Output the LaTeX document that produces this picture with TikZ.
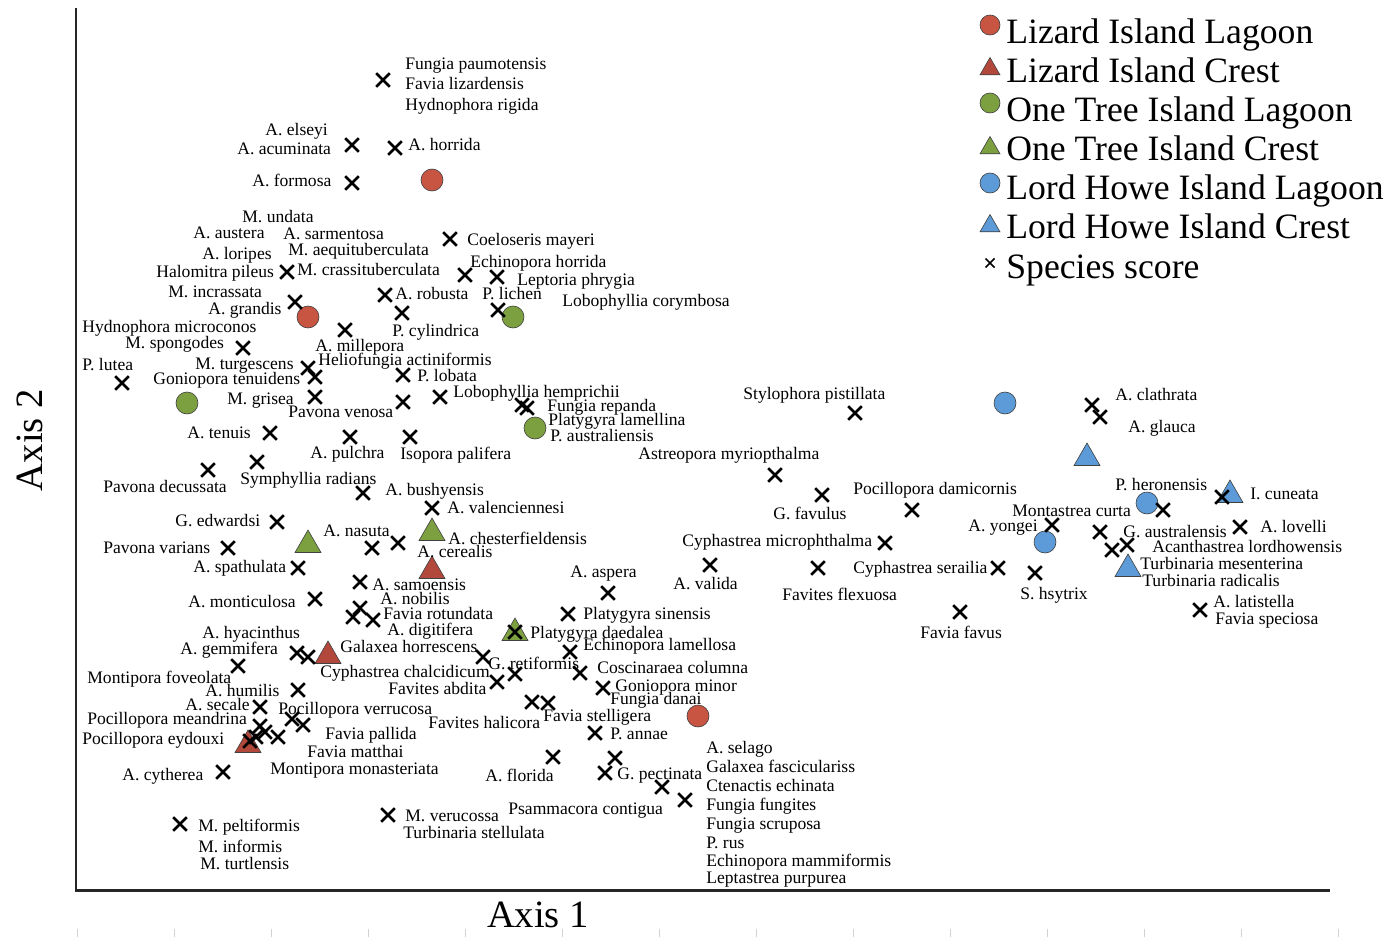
\documentclass[tikz,border=0pt]{standalone}
\usepackage{fontspec}
\setmainfont{Liberation Serif}
\usepackage{tikz}
\usetikzlibrary{shapes.geometric,shapes.misc}
\definecolor{lizard}{RGB}{200,84,66}
\definecolor{lizardcr}{RGB}{178,72,60}
\definecolor{onetree}{RGB}{124,160,64}
\definecolor{lordhowe}{RGB}{92,155,216}

\begin{document}
\begin{tikzpicture}[x=0.02cm, y=-0.02cm,
    xmark/.style={cross out, draw, line width=0.52mm, minimum size=2.2mm, inner sep=0pt},
    site/.style={draw=black!75, line width=0.35pt, inner sep=0pt},
    lagoon/.style={site, circle, minimum size=4.4mm},
    crest/.style={site, regular polygon, regular polygon sides=3, minimum size=6mm},
    lbl/.style={anchor=mid west, inner sep=0pt, yshift=-0.5mm, font=\fontsize{10}{12}\selectfont},
    key/.style={anchor=mid west, inner sep=0pt, yshift=-1.8mm, font=\fontsize{20.3}{24}\selectfont},
    axlbl/.style={inner sep=0pt, font=\fontsize{22}{26}\selectfont}]

    \useasboundingbox (0,0) rectangle (1400,937);

    \coordinate (T) at (76,8);
    \coordinate (O) at (76,890);
    \coordinate (R) at (1330,890);

    \draw[line width=1.7pt, black!85] (T) -- (O) -- (R);
    \foreach \t in {0,...,13}
        \draw[gray!35] (77+97*\t,929) -- (77+97*\t,937);

    % sites
    \node[lagoon, fill=lizard] (L1) at (432,180) {};
    \node[lagoon, fill=lizard] (L2) at (308,317) {};
    \node[lagoon, fill=lizard] (L3) at (698,716) {};
    \node[crest, fill=lizardcr] (LC1) at (432,571) {};
    \node[crest, fill=lizardcr] (LC2) at (328,656) {};
    \node[crest, fill=lizardcr] (LC3) at (248,745) {};
    \node[lagoon, fill=onetree] (G1) at (513,317) {};
    \node[lagoon, fill=onetree] (G2) at (187,403) {};
    \node[lagoon, fill=onetree] (G3) at (535,428) {};
    \node[crest, fill=onetree] (GC1) at (308,545) {};
    \node[crest, fill=onetree] (GC2) at (432,533) {};
    \node[crest, fill=onetree] (GC3) at (515,633) {};
    \node[lagoon, fill=lordhowe] (H1) at (1005,403) {};
    \node[lagoon, fill=lordhowe] (H2) at (1147,503) {};
    \node[lagoon, fill=lordhowe] (H3) at (1045,542) {};
    \node[crest, fill=lordhowe] (HC1) at (1087,458) {};
    \node[crest, fill=lordhowe] (HC2) at (1230,495) {};
    \node[crest, fill=lordhowe] (HC3) at (1128,569) {};

    % species scores
    \foreach \x/\y [count=\i] in {383/80, 352/145, 395/148, 352/183, 450/239,
        287/272, 465/275, 497/277, 385/295, 295/302, 402/313, 498/310,
        345/330, 243/348, 308/368, 315/377, 403/375, 122/383, 315/397,
        403/402, 440/397, 522/405, 527/408, 270/433, 350/437, 410/437,
        257/462, 208/470, 363/493, 432/508, 277/522, 228/548, 372/548,
        398/543, 298/568, 360/582, 315/599, 360/608, 353/617, 373/620,
        297/653, 308/657, 238/666, 483/657, 497/682, 515/674, 298/690,
        260/707, 292/719, 303/725, 260/726, 265/732, 256/737, 278/737,
        250/741, 223/772, 180/824, 388/815, 515/632, 570/652, 580/673,
        603/688, 532/702, 548/703, 595/733, 553/757, 615/758, 605/773,
        662/787, 685/800, 608/593, 568/614, 710/565, 775/475, 855/413,
        822/495, 912/510, 885/543, 818/568, 998/568, 1035/573, 960/612,
        1052/525, 1092/405, 1100/417, 1163/510, 1222/497, 1100/532,
        1240/527, 1112/550, 1127/545, 1200/610}
        \node[xmark] (x\i) at (\x,\y) {};

    % labels
    \node[lbl] (fpau) at (405,63) {Fungia paumotensis};
    \node[lbl] (fliz) at (405,83) {Favia lizardensis};
    \node[lbl] (hrig) at (405,104) {Hydnophora rigida};
    \node[lbl] (aels) at (265,129) {A. elseyi};
    \node[lbl] (aacu) at (237,148) {A. acuminata};
    \node[lbl] (ahor) at (408,144) {A. horrida};
    \node[lbl] (afor) at (252,180) {A. formosa};
    \node[lbl] (mund) at (242,216) {M. undata};
    \node[lbl] (aaus) at (193,232) {A. austera};
    \node[lbl] (asar) at (283,233) {A. sarmentosa};
    \node[lbl] (cmay) at (467,239) {Coeloseris mayeri};
    \node[lbl] (alor) at (202,253) {A. loripes};
    \node[lbl] (maeq) at (288,249) {M. aequituberculata};
    \node[lbl] (hpil) at (156,271) {Halomitra pileus};
    \node[lbl] (mcra) at (297,269) {M. crassituberculata};
    \node[lbl] (ehor) at (470,261) {Echinopora horrida};
    \node[lbl] (lphr) at (517,279) {Leptoria phrygia};
    \node[lbl] (minc) at (168,291) {M. incrassata};
    \node[lbl] (arob) at (395,293) {A. robusta};
    \node[lbl] (plic) at (482,293) {P. lichen};
    \node[lbl] (lcor) at (562,300) {Lobophyllia corymbosa};
    \node[lbl] (agra) at (208,308) {A. grandis};
    \node[lbl] (hmic) at (82,326) {Hydnophora microconos};
    \node[lbl] (pcyl) at (392,330) {P. cylindrica};
    \node[lbl] (mspo) at (125,342) {M. spongodes};
    \node[lbl] (amil) at (315,345) {A. millepora};
    \node[lbl] (plut) at (82,364) {P. lutea};
    \node[lbl] (mtur) at (195,363) {M. turgescens};
    \node[lbl] (hact) at (318,359) {Heliofungia actiniformis};
    \node[lbl] (plob) at (417,375) {P. lobata};
    \node[lbl] (gten) at (153,378) {Goniopora tenuidens};
    \node[lbl] (mgri) at (227,398) {M. grisea};
    \node[lbl] (lhem) at (453,391) {Lobophyllia hemprichii};
    \node[lbl] (pven) at (288,411) {Pavona venosa};
    \node[lbl] (frep) at (547,405) {Fungia repanda};
    \node[lbl] (plam) at (548,419) {Platygyra lamellina};
    \node[lbl] (paus) at (550,435) {P. australiensis};
    \node[lbl] (spis) at (743,393) {Stylophora pistillata};
    \node[lbl] (aten) at (187,432) {A. tenuis};
    \node[lbl] (apul) at (310,452) {A. pulchra};
    \node[lbl] (ipal) at (400,453) {Isopora palifera};
    \node[lbl] (amyr) at (638,453) {Astreopora myriopthalma};
    \node[lbl] (srad) at (240,478) {Symphyllia radians};
    \node[lbl] (pdec) at (103,486) {Pavona decussata};
    \node[lbl] (abus) at (385,489) {A. bushyensis};
    \node[lbl] (aval) at (447,507) {A. valenciennesi};
    \node[lbl] (gedw) at (175,520) {G. edwardsi};
    \node[lbl] (anas) at (323,530) {A. nasuta};
    \node[lbl] (ache) at (448,538) {A. chesterfieldensis};
    \node[lbl] (pvar) at (103,547) {Pavona varians};
    \node[lbl] (acer) at (417,551) {A. cerealis};
    \node[lbl] (aspa) at (193,566) {A. spathulata};
    \node[lbl] (asam) at (372,584) {A. samoensis};
    \node[lbl] (amon) at (188,601) {A. monticulosa};
    \node[lbl] (anob) at (380,598) {A. nobilis};
    \node[lbl] (frot) at (383,613) {Favia rotundata};
    \node[lbl] (adig) at (387,629) {A. digitifera};
    \node[lbl] (pdae) at (530,632) {Platygyra daedalea};
    \node[lbl] (ahya) at (202,632) {A. hyacinthus};
    \node[lbl] (agem) at (180,648) {A. gemmifera};
    \node[lbl] (ghor) at (340,646) {Galaxea horrescens};
    \node[lbl] (mfov) at (87,677) {Montipora foveolata};
    \node[lbl] (ccha) at (320,671) {Cyphastrea chalcidicum};
    \node[lbl] (gret) at (488,663) {G. retiformis};
    \node[lbl] (fabd) at (388,688) {Favites abdita};
    \node[lbl] (ahum) at (205,690) {A. humilis};
    \node[lbl] (asec) at (185,704) {A. secale};
    \node[lbl] (pver) at (278,708) {Pocillopora verrucosa};
    \node[lbl] (pmea) at (87,718) {Pocillopora meandrina};
    \node[lbl] (peyd) at (82,738) {Pocillopora eydouxi};
    \node[lbl] (fpal) at (325,733) {Favia pallida};
    \node[lbl] (fmat) at (307,751) {Favia matthai};
    \node[lbl] (mmon) at (270,768) {Montipora monasteriata};
    \node[lbl] (acyt) at (122,774) {A. cytherea};
    \node[lbl] (mpel) at (198,825) {M. peltiformis};
    \node[lbl] (minf) at (198,846) {M. informis};
    \node[lbl] (mtul) at (200,863) {M. turtlensis};
    \node[lbl] (mver) at (405,815) {M. verucossa};
    \node[lbl] (tste) at (403,832) {Turbinaria stellulata};
    \node[lbl] (fhal) at (428,722) {Favites halicora};
    \node[lbl] (fste) at (543,715) {Favia stelligera};
    \node[lbl] (fdan) at (610,698) {Fungia danai};
    \node[lbl] (gmin) at (615,685) {Goniopora minor};
    \node[lbl] (ccol) at (597,667) {Coscinaraea columna};
    \node[lbl] (elam) at (583,644) {Echinopora lamellosa};
    \node[lbl] (psin) at (583,613) {Platygyra sinensis};
    \node[lbl] (aasp) at (570,571) {A. aspera};
    \node[lbl] (avld) at (673,583) {A. valida};
    \node[lbl] (pann) at (610,733) {P. annae};
    \node[lbl] (asel) at (706,747) {A. selago};
    \node[lbl] (gfas) at (706,766) {Galaxea fasciculariss};
    \node[lbl] (aflo) at (485,775) {A. florida};
    \node[lbl] (gpec) at (617,773) {G. pectinata};
    \node[lbl] (cech) at (706,785) {Ctenactis echinata};
    \node[lbl] (ffun) at (706,804) {Fungia fungites};
    \node[lbl] (pcon) at (508,808) {Psammacora contigua};
    \node[lbl] (fscr) at (706,823) {Fungia scruposa};
    \node[lbl] (prus) at (706,842) {P. rus};
    \node[lbl] (emam) at (706,860) {Echinopora mammiformis};
    \node[lbl] (lpur) at (706,877) {Leptastrea purpurea};
    \node[lbl] (cmic) at (682,540) {Cyphastrea microphthalma};
    \node[lbl] (pdam) at (853,488) {Pocillopora damicornis};
    \node[lbl] (gfav) at (773,513) {G. favulus};
    \node[lbl] (cser) at (853,567) {Cyphastrea serailia};
    \node[lbl] (ffle) at (782,594) {Favites flexuosa};
    \node[lbl] (ffav) at (920,632) {Favia favus};
    \node[lbl] (mcur) at (1012,510) {Montastrea curta};
    \node[lbl] (ayon) at (968,525) {A. yongei};
    \node[lbl] (shys) at (1020,593) {S. hsytrix};
    \node[lbl] (acla) at (1115,394) {A. clathrata};
    \node[lbl] (agla) at (1128,426) {A. glauca};
    \node[lbl] (pher) at (1115,484) {P. heronensis};
    \node[lbl] (icun) at (1250,493) {I. cuneata};
    \node[lbl] (gaus) at (1123,531) {G. australensis};
    \node[lbl] (alov) at (1260,526) {A. lovelli};
    \node[lbl] (alor2) at (1152,546) {Acanthastrea lordhowensis};
    \node[lbl] (tmes) at (1140,563) {Turbinaria mesenterina};
    \node[lbl] (trad) at (1142,580) {Turbinaria radicalis};
    \node[lbl] (alat) at (1213,601) {A. latistella};
    \node[lbl] (fspe) at (1215,618) {Favia speciosa};

    % legend
    \node[lagoon, fill=lizard, minimum size=4mm] (K1) at (990,25) {};
    \node[crest, fill=lizardcr, minimum size=4.6mm] (K2) at (990,69) {};
    \node[lagoon, fill=onetree, minimum size=4mm] (K3) at (990,103) {};
    \node[crest, fill=onetree, minimum size=4.6mm] (K4) at (990,148) {};
    \node[lagoon, fill=lordhowe, minimum size=4mm] (K5) at (990,183) {};
    \node[crest, fill=lordhowe, minimum size=4.6mm] (K6) at (990,226) {};
    \node[xmark, line width=0.3mm, minimum size=1.5mm] (K7) at (990,263) {};
    \node[key] (E1) at (1006,30) {Lizard Island Lagoon};
    \node[key] (E2) at (1006,69) {Lizard Island Crest};
    \node[key] (E3) at (1006,108) {One Tree Island Lagoon};
    \node[key] (E4) at (1006,147) {One Tree Island Crest};
    \node[key] (E5) at (1006,186) {Lord Howe Island Lagoon};
    \node[key] (E6) at (1006,225) {Lord Howe Island Crest};
    \node[key] (E7) at (1006,265) {Species score};

    \node[axlbl, rotate=90] (A2) at (30,440) {Axis 2};
    \node[axlbl] (A1) at (538,915) {Axis 1};
\end{tikzpicture}
\end{document}
